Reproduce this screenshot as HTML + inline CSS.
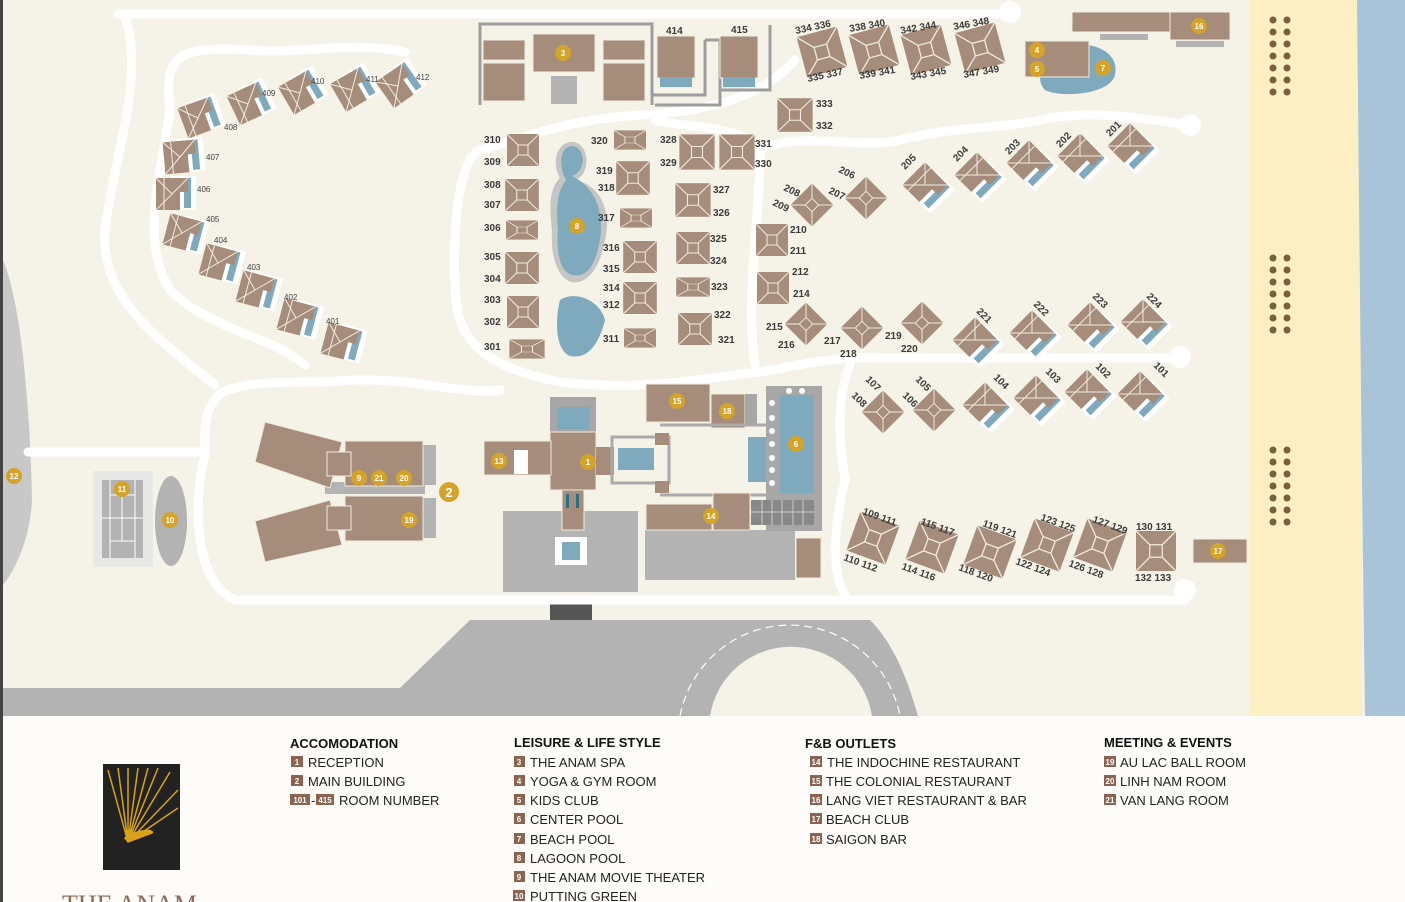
<!DOCTYPE html>
<html><head><meta charset="utf-8"><style>
html,body{margin:0;padding:0;background:#fdfcf9;}
svg{display:block;font-family:"Liberation Sans",sans-serif;}
.l{font-size:10px;font-weight:bold;fill:#3a3a3a;}
.s{font-size:8px;fill:#444;}
.n{font-size:8px;font-weight:bold;fill:#fff;text-anchor:middle;}
.h{font-size:13px;font-weight:bold;fill:#111;}
.i{font-size:13px;fill:#222;}
.b{font-size:8px;fill:#fff;text-anchor:middle;font-weight:bold;}
</style></head><body>
<svg width="1405" height="902" viewBox="0 0 1405 902" xmlns="http://www.w3.org/2000/svg">
<defs>
<g id="h"><rect x="-16" y="-16" width="32" height="32" fill="#a68d7b"/><path d="M-16-16L-5-5M16-16L5-5M-16 16L-5 5M16 16L5 5M-5-5H5V5H-5Z" stroke="#f1ebdf" stroke-width="1" fill="none"/></g>
<g id="v"><rect x="-2" y="-18" width="26" height="34" fill="#fff"/><rect x="12" y="-16" width="7" height="30" fill="#7fa9bd"/><rect x="-16" y="-16" width="24" height="32" fill="#a68d7b"/><rect x="-16" y="-16" width="32" height="14" fill="#a68d7b"/><path d="M-16-16L0 0M16-16L0 0M-16 16L0 0M-8-16V16" stroke="#f1ebdf" stroke-width="1" fill="none"/></g>
<g id="c"><circle r="8" fill="#d4a42a"/></g>
</defs>
<rect width="1405" height="716" fill="#f5f2e7"/>
<rect x="0" y="0" width="3" height="902" fill="#444"/>
<path d="M3,260 C20,300 30,400 32,500 C30,540 15,570 3,585Z" fill="#c8c8c8"/>
<rect x="1250" y="0" width="112" height="716" fill="#fcefc3"/>
<path d="M1357,0 H1405 V716 H1365 C1362,500 1360,300 1357,0Z" fill="#a9c4d8"/>
<path d="M3,688 L3,716 L918,716 C905,670 890,640 870,620 L470,620 L400,688Z" fill="#b3b3b3"/>
<path d="M710,716 A82,82 0 0 1 872,716Z" fill="#f5f2e7"/>
<path d="M680,716 A112,112 0 0 1 900,716" fill="none" stroke="#fff" stroke-width="1.2" stroke-dasharray="8 5"/>
<rect x="550" y="603" width="42" height="17" fill="#555"/>
<g fill="none" stroke="#fff" stroke-width="9" stroke-linecap="round">
<path d="M118,14 H1008"/>
<path d="M125,16 C145,80 115,150 105,230 C100,300 160,340 215,385"/>
<path d="M405,52 C350,40 300,55 250,50 C170,45 165,60 170,110 C160,180 140,240 170,290 C210,330 270,335 305,365"/>
<path d="M28,452 H205"/>
<path d="M228,390 C200,400 205,440 205,455 C195,490 190,580 235,600 H835 H1185"/>
<path d="M228,390 C260,378 310,385 350,380 C420,378 460,395 500,390"/>
<path d="M480,150 C455,160 452,250 456,300 C460,350 500,370 560,382 C650,392 700,378 760,372 C800,365 840,355 880,358 H1180"/>
<path d="M480,150 C520,140 560,120 640,115 C700,112 760,100 795,60"/>
<path d="M655,120 C700,130 740,125 760,150 C760,220 745,300 755,365"/>
<path d="M760,150 C800,130 860,150 900,140 C960,125 1000,130 1050,118 C1100,110 1150,120 1190,125"/>
<path d="M850,365 C835,400 840,450 845,480 C835,520 830,570 845,595"/>
</g>
<g fill="#fff"><circle cx="1010" cy="12" r="11"/><circle cx="1190" cy="125" r="11"/><circle cx="1180" cy="357" r="11"/><circle cx="1185" cy="590" r="11"/></g>
<g fill="#7a5e3f">
<g id="dg"><circle cx="1273" cy="20" r="3.5"/><circle cx="1287" cy="20" r="3.5"/><circle cx="1273" cy="32" r="3.5"/><circle cx="1287" cy="32" r="3.5"/><circle cx="1273" cy="44" r="3.5"/><circle cx="1287" cy="44" r="3.5"/><circle cx="1273" cy="56" r="3.5"/><circle cx="1287" cy="56" r="3.5"/><circle cx="1273" cy="68" r="3.5"/><circle cx="1287" cy="68" r="3.5"/><circle cx="1273" cy="80" r="3.5"/><circle cx="1287" cy="80" r="3.5"/><circle cx="1273" cy="92" r="3.5"/><circle cx="1287" cy="92" r="3.5"/></g>
<use href="#dg" y="238"/><use href="#dg" y="430"/>
</g>
<g>
<use href="#v" transform="translate(398,86) rotate(-35)"/><use href="#v" transform="translate(352,90) rotate(-30)"/><use href="#v" transform="translate(300,93) rotate(-30)"/><use href="#v" transform="translate(248,104) rotate(-25)"/><use href="#v" transform="translate(198,118) rotate(-20)"/><use href="#v" transform="translate(180,157) rotate(-5)"/><use href="#v" transform="translate(172,194) rotate(0)"/><use href="#v" transform="translate(182,233) rotate(15)"/><use href="#v" transform="translate(218,263) rotate(15)"/><use href="#v" transform="translate(255,290) rotate(15)"/><use href="#v" transform="translate(296,318) rotate(15)"/><use href="#v" transform="translate(340,342) rotate(15)"/>
</g>
<g class="s"><text x="416" y="80">412</text><text x="366" y="82">411</text><text x="311" y="84">410</text><text x="262" y="96">409</text><text x="224" y="130">408</text><text x="206" y="160">407</text><text x="197" y="192">406</text><text x="206" y="222">405</text><text x="214" y="243">404</text><text x="247" y="270">403</text><text x="284" y="300">402</text><text x="326" y="324">401</text></g>
<g fill="none" stroke="#9d9d9d" stroke-width="3"><path d="M480,105 V24 H652 V105"/><path d="M652,95 H705 V40 M705,40 H720 V105 H655"/><path d="M770,25 V90 H720"/></g>
<g fill="#a68d7b" stroke="#f1ebdf" stroke-width="1">
<rect x="483" y="40" width="42" height="20"/><rect x="483" y="63" width="42" height="38"/><rect x="533" y="34" width="62" height="38"/><rect x="603" y="40" width="42" height="20"/><rect x="603" y="63" width="42" height="38"/>
<rect x="657" y="36" width="38" height="42"/><rect x="720" y="36" width="38" height="42"/>
</g>
<rect x="551" y="76" width="26" height="28" fill="#b3b3b3"/>
<rect x="660" y="77" width="32" height="10" fill="#7fa9bd"/><rect x="723" y="77" width="32" height="10" fill="#7fa9bd"/>
<text class="l" x="666" y="34">414</text><text class="l" x="731" y="33">415</text>
<use href="#c" x="563" y="53"/><text class="n" x="563" y="56">3</text>
<path d="M570,142 C590,140 592,175 575,180 C600,185 612,210 605,240 C600,270 585,285 572,282 C560,280 550,260 552,230 C548,200 552,185 560,178 C552,165 555,145 570,142Z" fill="#c5c5c5"/>
<path d="M571,146 C585,146 588,170 572,176 C596,188 604,212 600,240 C595,268 585,278 572,275 C562,272 556,258 558,230 C555,200 560,188 566,180 C558,165 560,148 571,146Z" fill="#7fa9bd"/>
<path d="M560,300 C575,290 600,300 605,320 C600,340 590,360 570,356 C555,350 555,320 560,300Z" fill="#7fa9bd"/>
<use href="#c" x="577" y="226"/><text class="n" x="577" y="229">8</text>
<g>
<use href="#h" transform="translate(523,150) scale(1,1)"/><use href="#h" transform="translate(522,195) scale(1.05,1)"/><use href="#h" transform="translate(522,230) scale(1,.6)"/><use href="#h" transform="translate(522,268) scale(1.05,1)"/><use href="#h" transform="translate(523,312) scale(1,1)"/><use href="#h" transform="translate(527,349) scale(1.1,.6)"/>
<use href="#h" transform="translate(630,140) scale(1,.6)"/><use href="#h" transform="translate(633,178) scale(1.05,1.05)"/><use href="#h" transform="translate(636,218) scale(1,.6)"/><use href="#h" transform="translate(640,257) scale(1.05,1)"/><use href="#h" transform="translate(640,298) scale(1.05,1)"/><use href="#h" transform="translate(640,338) scale(1,.6)"/>
<use href="#h" transform="translate(697,152) scale(1.1,1.1)"/><use href="#h" transform="translate(737,152) scale(1.1,1.1)"/><use href="#h" transform="translate(693,200) scale(1.1,1.05)"/><use href="#h" transform="translate(693,248) scale(1.05,1)"/><use href="#h" transform="translate(693,287) scale(1.05,.6)"/><use href="#h" transform="translate(695,329) scale(1.05,1)"/>
<use href="#h" transform="translate(795,115) scale(1.1,1.05)"/><use href="#h" transform="translate(772,240)"/><use href="#h" transform="translate(773,288)"/>
</g>
<g class="l"><text x="484" y="143">310</text><text x="484" y="165">309</text><text x="484" y="188">308</text><text x="484" y="208">307</text><text x="484" y="231">306</text><text x="484" y="260">305</text><text x="484" y="282">304</text><text x="484" y="303">303</text><text x="484" y="325">302</text><text x="484" y="350">301</text>
<text x="591" y="144">320</text><text x="596" y="174">319</text><text x="598" y="191">318</text><text x="598" y="221">317</text><text x="603" y="251">316</text><text x="603" y="272">315</text><text x="603" y="291">314</text><text x="603" y="308">312</text><text x="603" y="342">311</text>
<text x="660" y="143">328</text><text x="660" y="166">329</text><text x="755" y="147">331</text><text x="755" y="167">330</text><text x="713" y="193">327</text><text x="713" y="216">326</text><text x="710" y="242">325</text><text x="710" y="264">324</text><text x="711" y="290">323</text><text x="714" y="318">322</text><text x="718" y="343">321</text>
<text x="816" y="107">333</text><text x="816" y="129">332</text><text x="790" y="233">210</text><text x="790" y="254">211</text><text x="792" y="275">212</text><text x="793" y="297">214</text><text x="766" y="330">215</text><text x="778" y="348">216</text><text x="824" y="344">217</text><text x="840" y="357">218</text><text x="885" y="339">219</text><text x="901" y="352">220</text></g>
<g><use href="#h" transform="translate(822,52) rotate(-15) scale(1.3)"/><use href="#h" transform="translate(874,50) rotate(-15) scale(1.3)"/><use href="#h" transform="translate(926,50) rotate(-15) scale(1.3)"/><use href="#h" transform="translate(980,48) rotate(-15) scale(1.3)"/></g>
<g class="l"><text x="796" y="34" transform="rotate(-12 796 34)">334 336</text><text x="850" y="32" transform="rotate(-10 850 32)">338 340</text><text x="901" y="34" transform="rotate(-10 901 34)">342 344</text><text x="954" y="30" transform="rotate(-10 954 30)">346 348</text>
<text x="808" y="82" transform="rotate(-12 808 82)">335 337</text><text x="860" y="79" transform="rotate(-10 860 79)">339 341</text><text x="911" y="80" transform="rotate(-10 911 80)">343 345</text><text x="964" y="78" transform="rotate(-10 964 78)">347 349</text></g>
<path d="M1060,45 C1090,40 1120,50 1115,75 C1110,95 1060,98 1045,90 C1035,80 1040,60 1060,45Z" fill="#7fa9bd"/>
<rect x="1025" y="41" width="64" height="36" fill="#a68d7b" stroke="#f1ebdf"/>
<use href="#c" x="1037" y="50"/><text class="n" x="1037" y="53">4</text><use href="#c" x="1037" y="69"/><text class="n" x="1037" y="72">5</text><use href="#c" x="1103" y="68"/><text class="n" x="1103" y="71">7</text>
<rect x="1072" y="12" width="100" height="20" fill="#a68d7b" stroke="#f1ebdf"/><rect x="1170" y="12" width="60" height="28" fill="#a68d7b" stroke="#f1ebdf"/>
<rect x="1100" y="34" width="48" height="6" fill="#b3b3b3"/><rect x="1176" y="41" width="48" height="6" fill="#b3b3b3"/>
<use href="#c" x="1199" y="26"/><text class="n" x="1199" y="29">16</text>
<g>
<use href="#h" transform="translate(812,205) rotate(45) scale(.95)"/><use href="#h" transform="translate(866,198) rotate(45) scale(.95)"/>
<use href="#v" transform="translate(925,185) rotate(45)"/><use href="#v" transform="translate(977,175) rotate(45)"/><use href="#v" transform="translate(1029,163) rotate(45)"/><use href="#v" transform="translate(1080,156) rotate(45)"/><use href="#v" transform="translate(1130,146) rotate(45)"/>
<use href="#h" transform="translate(806,324) rotate(45) scale(.95)"/><use href="#h" transform="translate(862,328) rotate(45) scale(.95)"/><use href="#h" transform="translate(922,323) rotate(45) scale(.95)"/>
<use href="#v" transform="translate(975,340) rotate(45)"/><use href="#v" transform="translate(1032,333) rotate(45)"/><use href="#v" transform="translate(1090,325) rotate(45)"/><use href="#v" transform="translate(1143,322) rotate(45)"/>
<use href="#h" transform="translate(883,412) rotate(45) scale(.95)"/><use href="#h" transform="translate(934,410) rotate(45) scale(.95)"/>
<use href="#v" transform="translate(985,405) rotate(45)"/><use href="#v" transform="translate(1036,398) rotate(45)"/><use href="#v" transform="translate(1087,392) rotate(45)"/><use href="#v" transform="translate(1140,394) rotate(45)"/>
<use href="#h" transform="translate(873,538) rotate(20) scale(1.3)"/><use href="#h" transform="translate(932,547) rotate(20) scale(1.3)"/><use href="#h" transform="translate(990,552) rotate(20) scale(1.3)"/><use href="#h" transform="translate(1047,545) rotate(20) scale(1.3)"/><use href="#h" transform="translate(1100,545) rotate(20) scale(1.3)"/><use href="#h" transform="translate(1156,551) scale(1.25)"/>
</g>
<rect x="1193" y="539" width="54" height="24" fill="#a68d7b" stroke="#f1ebdf"/><use href="#c" x="1218" y="551"/><text class="n" x="1218" y="554">17</text>
<g class="l">
<text x="783" y="190" transform="rotate(25 783 190)">208</text><text x="772" y="205" transform="rotate(25 772 205)">209</text><text x="838" y="172" transform="rotate(25 838 172)">206</text><text x="828" y="193" transform="rotate(25 828 193)">207</text>
<text x="905" y="170" transform="rotate(-45 905 170)">205</text><text x="957" y="162" transform="rotate(-45 957 162)">204</text><text x="1009" y="155" transform="rotate(-45 1009 155)">203</text><text x="1060" y="148" transform="rotate(-45 1060 148)">202</text><text x="1110" y="137" transform="rotate(-45 1110 137)">201</text>
<text x="976" y="312" transform="rotate(45 976 312)">221</text><text x="1033" y="305" transform="rotate(45 1033 305)">222</text><text x="1092" y="297" transform="rotate(45 1092 297)">223</text><text x="1146" y="297" transform="rotate(45 1146 297)">224</text>
<text x="865" y="380" transform="rotate(45 865 380)">107</text><text x="851" y="396" transform="rotate(45 851 396)">108</text><text x="915" y="380" transform="rotate(45 915 380)">105</text><text x="902" y="396" transform="rotate(45 902 396)">106</text>
<text x="993" y="378" transform="rotate(45 993 378)">104</text><text x="1045" y="372" transform="rotate(45 1045 372)">103</text><text x="1095" y="367" transform="rotate(45 1095 367)">102</text><text x="1153" y="366" transform="rotate(45 1153 366)">101</text>
<text x="862" y="514" transform="rotate(20 862 514)">109 111</text><text x="920" y="524" transform="rotate(20 920 524)">115 117</text><text x="982" y="526" transform="rotate(20 982 526)">119 121</text><text x="1040" y="520" transform="rotate(20 1040 520)">123 125</text><text x="1092" y="522" transform="rotate(20 1092 522)">127 129</text><text x="1136" y="530">130 131</text>
<text x="843" y="560" transform="rotate(20 843 560)">110 112</text><text x="901" y="569" transform="rotate(20 901 569)">114 116</text><text x="958" y="570" transform="rotate(20 958 570)">118 120</text><text x="1015" y="564" transform="rotate(20 1015 564)">122 124</text><text x="1068" y="566" transform="rotate(20 1068 566)">126 128</text><text x="1135" y="581">132 133</text></g>
<rect x="503" y="511" width="135" height="81" fill="#b3b3b3"/>
<rect x="645" y="530" width="150" height="50" fill="#b3b3b3"/>
<rect x="555" y="537" width="32" height="28" fill="#fff"/><rect x="562" y="542" width="18" height="18" fill="#7fa9bd"/>
<rect x="550" y="397" width="46" height="40" fill="#a7a7a7"/><rect x="557" y="407" width="32" height="22" fill="#7fa9bd"/>
<rect x="550" y="432" width="46" height="58" fill="#a68d7b" stroke="#f1ebdf"/>
<rect x="484" y="441" width="67" height="34" fill="#a68d7b" stroke="#f1ebdf"/><rect x="514" y="450" width="14" height="24" fill="#fff"/>
<rect x="596" y="447" width="18" height="28" fill="#a68d7b"/>
<rect x="612" y="437" width="57" height="46" fill="none" stroke="#aaa" stroke-width="3"/>
<rect x="618" y="448" width="36" height="22" fill="#7fa9bd"/>
<rect x="562" y="490" width="22" height="40" fill="#a68d7b" stroke="#f1ebdf"/>
<rect x="566" y="494" width="3" height="14" fill="#2a7085"/><rect x="576" y="494" width="3" height="14" fill="#2a7085"/>
<rect x="646" y="384" width="64" height="38" fill="#a68d7b" stroke="#f1ebdf"/><rect x="711" y="394" width="34" height="34" fill="#a68d7b" stroke="#f1ebdf"/><rect x="745" y="394" width="12" height="30" fill="#a7a7a7"/>
<rect x="766" y="386" width="56" height="145" fill="#a7a7a7"/><rect x="780" y="395" width="34" height="98" fill="#7fa9bd"/><rect x="748" y="437" width="18" height="45" fill="#7fa9bd"/>
<path d="M660,425 H766 M660,495 H766" stroke="#aaa" stroke-width="3"/>
<rect x="751" y="500" width="63" height="25" fill="#888"/><g stroke="#ccc" stroke-width="1"><path d="M762,500V525M772,500V525M782,500V525M793,500V525M803,500V525M751,512H814"/></g>
<rect x="646" y="504" width="66" height="26" fill="#a68d7b" stroke="#f1ebdf"/><rect x="713" y="493" width="37" height="37" fill="#a68d7b" stroke="#f1ebdf"/>
<rect x="796" y="538" width="25" height="40" fill="#a68d7b" stroke="#f1ebdf"/>
<rect x="655" y="433" width="14" height="12" fill="#a68d7b"/><rect x="655" y="481" width="14" height="12" fill="#a68d7b"/>
<g><use href="#c" x="588" y="462"/><text class="n" x="588" y="465">1</text><use href="#c" x="499" y="461"/><text class="n" x="499" y="464">13</text><use href="#c" x="677" y="401"/><text class="n" x="677" y="404">15</text><use href="#c" x="727" y="411"/><text class="n" x="727" y="414">18</text><use href="#c" x="796" y="444"/><text class="n" x="796" y="447">6</text><use href="#c" x="711" y="516"/><text class="n" x="711" y="519">14</text></g>
<g fill="#fff"><circle cx="789" cy="391" r="3"/><circle cx="802" cy="391" r="3"/><circle cx="772" cy="403" r="3"/><circle cx="772" cy="418" r="3"/><circle cx="772" cy="431" r="3"/><circle cx="772" cy="444" r="3"/><circle cx="772" cy="458" r="3"/><circle cx="772" cy="470" r="3"/><circle cx="772" cy="483" r="3"/></g>
<rect x="420" y="445" width="16" height="40" fill="#b3b3b3"/><rect x="420" y="498" width="16" height="40" fill="#b3b3b3"/>
<rect x="325" y="482" width="100" height="12" fill="#b3b3b3"/>
<polygon points="265,422 342,442 330,488 255,462" fill="#a68d7b" stroke="#f1ebdf"/>
<polygon points="255,521 330,500 342,545 265,562" fill="#a68d7b" stroke="#f1ebdf"/>
<rect x="345" y="441" width="78" height="45" fill="#a68d7b" stroke="#f1ebdf"/><rect x="345" y="496" width="78" height="45" fill="#a68d7b" stroke="#f1ebdf"/>
<rect x="327" y="452" width="24" height="24" fill="#a68d7b" stroke="#f1ebdf"/><rect x="327" y="506" width="24" height="24" fill="#a68d7b" stroke="#f1ebdf"/>
<g><use href="#c" x="359" y="478"/><text class="n" x="359" y="481">9</text><use href="#c" x="379" y="478"/><text class="n" x="379" y="481">21</text><use href="#c" x="404" y="478"/><text class="n" x="404" y="481">20</text><use href="#c" x="409" y="520"/><text class="n" x="409" y="523">19</text></g>
<circle cx="449" cy="492" r="10" fill="#d4a42a"/><text x="449" y="497" font-size="13" font-weight="bold" fill="#fff" text-anchor="middle">2</text>
<rect x="93" y="471" width="60" height="96" fill="#e8e8e6"/><rect x="102" y="480" width="41" height="78" fill="#b3b3b3"/>
<g stroke="#fff" stroke-width="1"><path d="M102,518H143M110,480V558M135,480V558M110,495H135M110,541H135M122,495V541"/></g>
<use href="#c" x="122" y="489"/><text class="n" x="122" y="492">11</text>
<ellipse cx="171" cy="521" rx="16" ry="45" fill="#b3b3b3"/><use href="#c" x="170" y="520"/><text class="n" x="170" y="523">10</text>
<use href="#c" x="14" y="476"/><text class="n" x="14" y="479">12</text>
<rect x="3" y="716" width="1402" height="186" fill="#fdfcf9"/>
<rect x="103" y="764" width="77" height="106" fill="#222"/>
<g stroke="#d9a21b" stroke-width="1.5"><path d="M128,842L108,770M128,842L118,768M128,842L128,768M128,842L138,768M128,842L148,768M128,842L158,768M128,842L170,772M128,842L178,790M128,842L178,808"/><path d="M125,838 C140,828 155,830 152,833 L128,842Z" fill="#d9a21b"/></g>
<text x="62" y="913" font-family="Liberation Serif,serif" font-size="26" fill="#8a6a58">THE ANAM</text>
<g>
<text class="h" x="290" y="748">ACCOMODATION</text>
<rect x="291" y="756" width="12" height="11" fill="#8a6451"/><text class="b" x="297" y="765">1</text><text class="i" x="308" y="767">RECEPTION</text>
<rect x="291" y="775" width="12" height="11" fill="#8a6451"/><text class="b" x="297" y="784">2</text><text class="i" x="308" y="786">MAIN BUILDING</text>
<rect x="290" y="794" width="20" height="11" fill="#8a6451"/><text class="b" x="300" y="803">101</text><text class="i" x="311" y="805">-</text><rect x="316" y="794" width="18" height="11" fill="#8a6451"/><text class="b" x="325" y="803">415</text><text class="i" x="339" y="805">ROOM NUMBER</text>
<text class="h" x="514" y="747">LEISURE &amp; LIFE STYLE</text>
<rect x="514" y="756" width="11" height="11" fill="#8a6451"/><text class="b" x="519" y="765">3</text><text class="i" x="530" y="767">THE ANAM SPA</text>
<rect x="514" y="775" width="11" height="11" fill="#8a6451"/><text class="b" x="519" y="784">4</text><text class="i" x="530" y="786">YOGA &amp; GYM ROOM</text>
<rect x="514" y="794" width="11" height="11" fill="#8a6451"/><text class="b" x="519" y="803">5</text><text class="i" x="530" y="805">KIDS CLUB</text>
<rect x="514" y="813" width="11" height="11" fill="#8a6451"/><text class="b" x="519" y="822">6</text><text class="i" x="530" y="824">CENTER POOL</text>
<rect x="514" y="833" width="11" height="11" fill="#8a6451"/><text class="b" x="519" y="842">7</text><text class="i" x="530" y="844">BEACH POOL</text>
<rect x="514" y="852" width="11" height="11" fill="#8a6451"/><text class="b" x="519" y="861">8</text><text class="i" x="530" y="863">LAGOON POOL</text>
<rect x="514" y="871" width="11" height="11" fill="#8a6451"/><text class="b" x="519" y="880">9</text><text class="i" x="530" y="882">THE ANAM MOVIE THEATER</text>
<rect x="513" y="890" width="12" height="11" fill="#8a6451"/><text class="b" x="519" y="899">10</text><text class="i" x="530" y="901">PUTTING GREEN</text>
<text class="h" x="805" y="748">F&amp;B OUTLETS</text>
<rect x="810" y="756" width="12" height="11" fill="#8a6451"/><text class="b" x="816" y="765">14</text><text class="i" x="827" y="767">THE INDOCHINE RESTAURANT</text>
<rect x="810" y="775" width="12" height="11" fill="#8a6451"/><text class="b" x="816" y="784">15</text><text class="i" x="826" y="786">THE COLONIAL RESTAURANT</text>
<rect x="810" y="794" width="12" height="11" fill="#8a6451"/><text class="b" x="816" y="803">16</text><text class="i" x="826" y="805">LANG VIET RESTAURANT &amp; BAR</text>
<rect x="810" y="813" width="12" height="11" fill="#8a6451"/><text class="b" x="816" y="822">17</text><text class="i" x="826" y="824">BEACH CLUB</text>
<rect x="810" y="833" width="12" height="11" fill="#8a6451"/><text class="b" x="816" y="842">18</text><text class="i" x="826" y="844">SAIGON BAR</text>
<text class="h" x="1104" y="747">MEETING &amp; EVENTS</text>
<rect x="1104" y="756" width="12" height="11" fill="#8a6451"/><text class="b" x="1110" y="765">19</text><text class="i" x="1120" y="767">AU LAC BALL ROOM</text>
<rect x="1104" y="775" width="12" height="11" fill="#8a6451"/><text class="b" x="1110" y="784">20</text><text class="i" x="1120" y="786">LINH NAM ROOM</text>
<rect x="1104" y="794" width="12" height="11" fill="#8a6451"/><text class="b" x="1110" y="803">21</text><text class="i" x="1120" y="805">VAN LANG ROOM</text>
</g>
</svg>
</body></html>
